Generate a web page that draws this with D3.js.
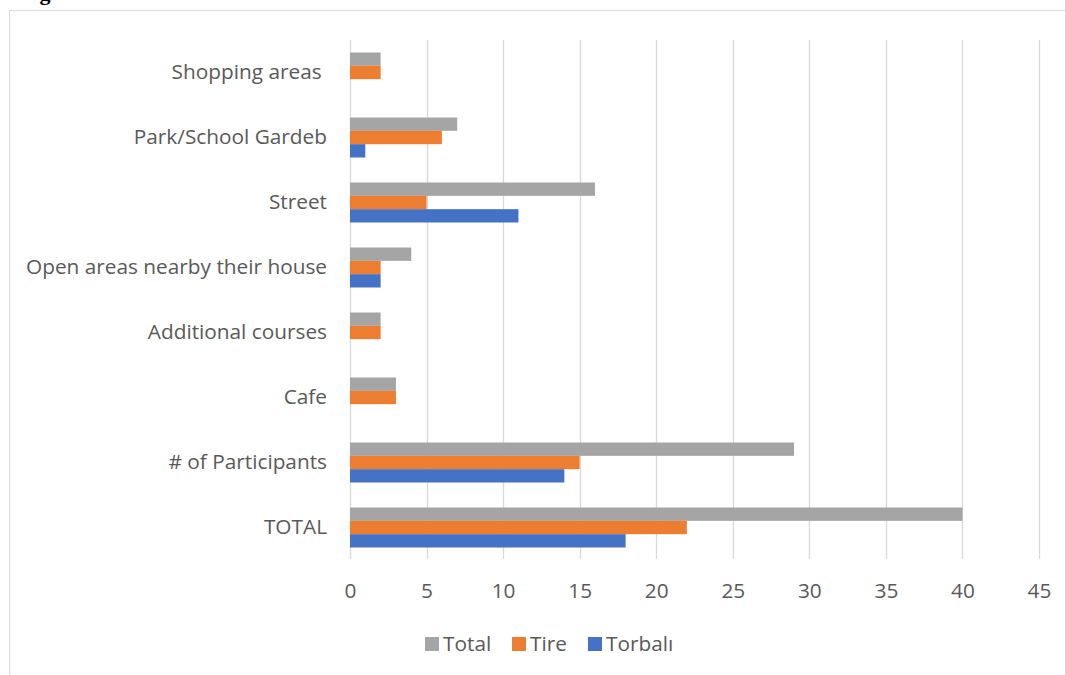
<!DOCTYPE html>
<html><head><meta charset="utf-8">
<script src="https://cdn.jsdelivr.net/npm/d3@7"></script>
<style>body{margin:0;background:#fff}svg{display:block}text{white-space:pre}</style>
</head><body>
<svg id="c" width="1065" height="675"></svg>
<script>
const categories = ["Shopping areas ", "Park/School Gardeb", "Street", "Open areas nearby their house", "Additional courses", "Cafe", "# of Participants", "TOTAL"];
const seriesNames = ["Total", "Tire", "Torbalı"];
const totalValues = [2, 7, 16, 4, 2, 3, 29, 40];
const tireValues = [2, 6, 5, 2, 2, 3, 15, 22];
const torbaliValues = [0, 1, 11, 2, 0, 0, 14, 18];
const xTicks = [0, 5, 10, 15, 20, 25, 30, 35, 40, 45];
const colors = ["#a5a5a5", "#ed7d31", "#4472c4"];

const seriesValues = [totalValues, tireValues, torbaliValues];
const svg = d3.select("#c");
const font = "'Open Sans', sans-serif";
const fs = 20.8;

// figure caption remnant and frame
svg.append("text").attr("x", 20).attr("y", 0).attr("font-family", "'Liberation Serif', serif")
  .attr("font-weight", "bold").attr("font-size", 22).attr("fill", "#000").text("Figure");
svg.append("rect").attr("x", 9.5).attr("y", 10.5).attr("width", 1100).attr("height", 700)
  .attr("fill", "none").attr("stroke", "#d9d9d9").attr("stroke-width", 1);

const x = d3.scaleLinear().domain([0, 45]).range([350, 1039]);
const y = d3.scaleBand().domain(categories).range([40, 560]).paddingInner(25/65).paddingOuter(12.5/65);
const ys = d3.scaleBand().domain(seriesNames).range([0, y.bandwidth()]);

// grid
svg.append("g").selectAll("line").data(xTicks).join("line")
  .attr("x1", d => Math.round(x(d)) + 0.5).attr("x2", d => Math.round(x(d)) + 0.5)
  .attr("y1", 40).attr("y2", 559).attr("stroke", "#d9d9d9").attr("stroke-width", 1.3);

// bars
const data = [];
categories.forEach((c, i) => seriesNames.forEach((s, j) => data.push({c, s, v: seriesValues[j][i], j})));
svg.append("g").selectAll("rect").data(data.filter(d => d.v > 0)).join("rect")
  .attr("x", x(0)).attr("y", d => y(d.c) + ys(d.s))
  .attr("width", d => x(d.v) - x(0)).attr("height", ys.bandwidth())
  .attr("fill", d => colors[d.j]);

// x axis labels
const xAxis = d3.axisBottom(x).tickValues(xTicks).tickSize(0).tickPadding(0);
const gx = svg.append("g").attr("transform", "translate(0,598)").call(xAxis);
gx.select(".domain").remove();
gx.selectAll("text").attr("font-family", font).attr("font-size", fs).attr("fill", "#595959").attr("dy", "0");

// y axis labels
const yAxis = d3.axisLeft(y).tickSize(0).tickPadding(0);
const gy = svg.append("g").attr("transform", "translate(327,0)").call(yAxis);
gy.select(".domain").remove();
gy.selectAll("text").attr("font-family", font).attr("font-size", fs).attr("fill", "#595959");

// legend
const legendX = [425, 512, 588];
const lg = svg.append("g").selectAll("g").data(seriesNames).join("g")
  .attr("transform", (d, i) => `translate(${legendX[i]},637)`);
lg.append("rect").attr("width", 14).attr("height", 14).attr("fill", (d, i) => colors[i]);
lg.append("text").attr("x", 18).attr("y", 14).attr("font-family", font)
  .attr("font-size", fs).attr("fill", "#595959").text(d => d);
</script>
</body></html>
